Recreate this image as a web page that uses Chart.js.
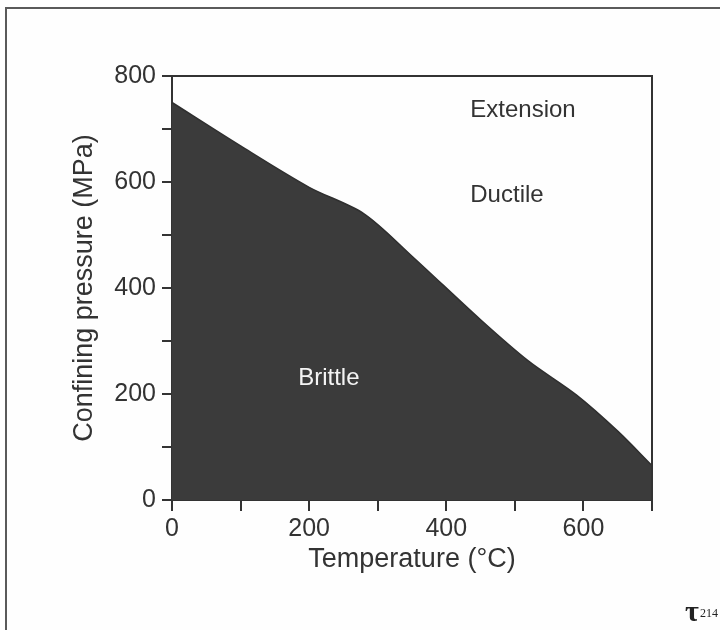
<!DOCTYPE html>
<html>
<head>
<meta charset="utf-8">
<script src="https://cdn.jsdelivr.net/npm/chart.js@4/dist/chart.umd.min.js"></script>
<style>
  html, body { margin: 0; padding: 0; background: #fff; }
  #wrap { width: 720px; height: 630px; position: relative; }
</style>
</head>
<body>
<div id="wrap"><canvas id="c" width="720" height="630"></canvas></div>
<script>
// ---- data ----
const temperature = [0, 100, 200, 280, 350, 450, 520, 590, 650, 700];
const pressure    = [750, 668, 590, 540, 460, 340, 262, 198, 130, 65];
const xTickLabels = [0, 200, 400, 600];
const yTickLabels = [0, 200, 400, 600, 800];
const regionNames = ['Extension', 'Ductile', 'Brittle'];
const regionTemps = [435, 435, 184];
const regionPress = [736, 575, 230];

const FONT = '"Liberation Sans", Arial, Helvetica, sans-serif';
const INK = '#333333';

const points = temperature.map((t, i) => ({ x: t, y: pressure[i] }));

const framePlugin = {
  id: 'frame',
  beforeDraw(chart) {
    const ctx = chart.ctx;
    ctx.save();
    ctx.fillStyle = '#fefefe';
    ctx.fillRect(0, 0, chart.width, chart.height);
    ctx.strokeStyle = '#5a5a5a';
    ctx.lineWidth = 2;
    ctx.beginPath();
    ctx.moveTo(6, chart.height);
    ctx.lineTo(6, 8);
    ctx.lineTo(chart.width, 8);
    ctx.stroke();
    ctx.restore();
  },
  afterDatasetsDraw(chart) {
    const ctx = chart.ctx;
    const a = chart.chartArea;
    ctx.save();
    ctx.strokeStyle = INK;
    ctx.lineWidth = 2;
    ctx.beginPath();
    ctx.moveTo(a.left, a.top);
    ctx.lineTo(a.right, a.top);
    ctx.lineTo(a.right, a.bottom);
    ctx.stroke();
    // region labels
    const xs = chart.scales.x, ys = chart.scales.y;
    ctx.font = '24px ' + FONT;
    ctx.textBaseline = 'middle';
    ctx.textAlign = 'left';
    regionNames.forEach((name, i) => {
      ctx.fillStyle = name === 'Brittle' ? '#f4f4f4' : INK;
      ctx.fillText(name, xs.getPixelForValue(regionTemps[i]), ys.getPixelForValue(regionPress[i]));
    });
    // logo mark
    ctx.fillStyle = '#222';
    ctx.font = 'bold 30px "Liberation Serif", "DejaVu Serif", serif';
    ctx.textBaseline = 'alphabetic';
    ctx.fillText('τ', 685, 621);
    ctx.font = '12px "Liberation Serif", serif';
    ctx.fillText('214', 700, 617);
    ctx.restore();
  }
};

new Chart(document.getElementById('c'), {
  type: 'line',
  data: {
    datasets: [{
      data: points,
      fill: 'origin',
      backgroundColor: '#3b3b3b',
      borderColor: '#2f2f2f',
      borderWidth: 1.5,
      pointRadius: 0,
      tension: 0.3
    }]
  },
  options: {
    responsive: false,
    animation: false,
    events: [],
    layout: { padding: { left: 60, right: 68, top: 76, bottom: 54 } },
    plugins: { legend: { display: false }, tooltip: { enabled: false } },
    scales: {
      x: {
        type: 'linear', min: 0, max: 700,
        afterFit(s) { s.height = 630 - 500 - 54; },
        border: { display: true, color: INK, width: 2 },
        grid: { display: true, drawOnChartArea: false, drawTicks: true, tickLength: 11, tickColor: INK, lineWidth: 2 },
        ticks: {
          stepSize: 100, padding: 3, color: INK, maxRotation: 0, autoSkip: false,
          font: { family: FONT, size: 25 },
          callback: v => xTickLabels.includes(v) ? String(v) : ''
        },
        title: { display: true, text: 'Temperature (°C)', color: INK, font: { family: FONT, size: 27 }, padding: { top: 0, bottom: 0 } }
      },
      y: {
        type: 'linear', min: 0, max: 800,
        afterFit(s) { s.width = 172 - 60; },
        border: { display: true, color: INK, width: 2 },
        grid: { display: true, drawOnChartArea: false, drawTicks: true, tickLength: 10, tickColor: INK, lineWidth: 2 },
        ticks: {
          stepSize: 100, padding: 6, color: INK, autoSkip: false,
          font: { family: FONT, size: 25 },
          callback: v => yTickLabels.includes(v) ? String(v) : ''
        },
        title: { display: true, text: 'Confining pressure (MPa)', color: INK, font: { family: FONT, size: 27 }, padding: { top: 8, bottom: 0 } }
      }
    }
  },
  plugins: [framePlugin]
});
</script>
</body>
</html>
